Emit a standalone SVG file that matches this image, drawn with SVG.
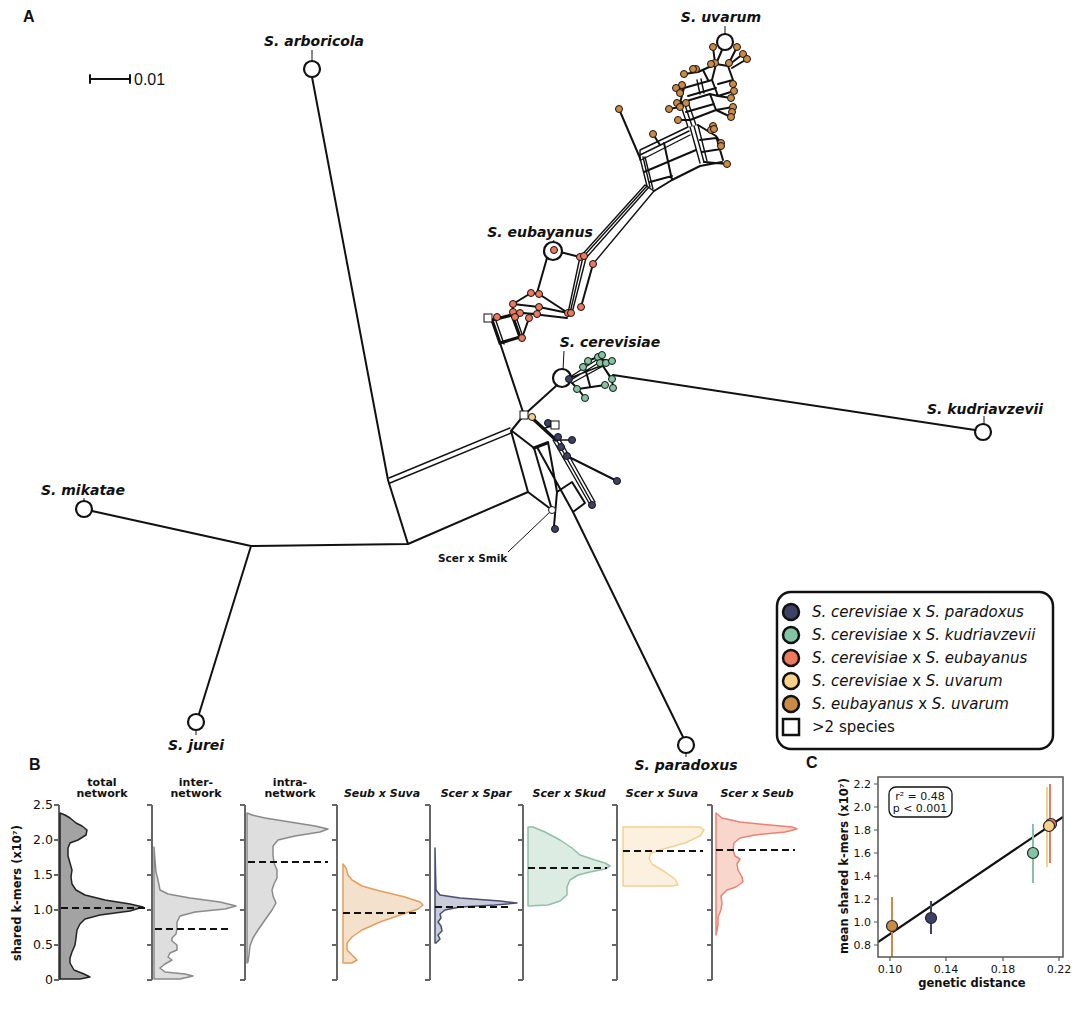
<svg xmlns="http://www.w3.org/2000/svg" width="1084" height="1009" viewBox="0 0 1084 1009">
<style>
text{font-family:"DejaVu Sans",sans-serif;fill:#111}
.lab{font-weight:bold;font-style:italic;font-size:14px;text-anchor:middle}
.e{stroke:#111;stroke-width:2;fill:none;stroke-linecap:round;stroke-linejoin:round}
.b{stroke:#111;stroke-width:1.4;fill:none;stroke-linecap:round}
.th{stroke:#111;stroke-width:3.2;fill:none;stroke-linecap:round}
.spc{fill:#fff;stroke:#111;stroke-width:2.2}
.nv{fill:#3d4166}.gr{fill:#82c4a3}.rd{fill:#ec7a5c}.ye{fill:#f7d18b}.br{fill:#cc8b45}
.lead{stroke:#111;stroke-width:1;fill:none}
.tk{font-size:12.5px;text-anchor:end;fill:#222}
.tt{font-weight:bold;font-size:11px;text-anchor:middle}
.ax{stroke:#666;stroke-width:2;fill:none}
.dash{stroke:#111;stroke-width:2;stroke-dasharray:7,4}
.leg{font-size:15px}
.pl{font-family:"Liberation Sans",Arial,sans-serif;font-weight:bold;font-size:16px}
</style>

<!-- panel letters -->
<text class="pl" x="23" y="22">A</text>
<text class="pl" x="29" y="770">B</text>
<text class="pl" x="806" y="768">C</text>

<!-- scale bar -->
<g id="scalebar">
<path class="e" d="M90,79 L130,79 M90,75 L90,83 M130,75 L130,83" stroke-width="2.5"/>
<text x="134" y="85" style="font-family:'Liberation Sans',Arial,sans-serif;font-size:16px">0.01</text>
</g>

<!-- connectors -->
<g id="edges">
<path class="e" d="M312,77 L388,480 M92,511 L251,546 L408,544 M251,546 L199,714 M408,544 L388,480 M408,544 L528,492 M511,431 L528,492 M511,431 L524,415 M524,415 L500,343 M524,415 L556,386 M528,492 L552,510 M512,431 L534,448 L552,510 M537,447 L573,512 L683,737 M557,492 L572,482 L585,503 L573,512 M557,492 L554,526 M548,442 L557,492 M567,456 L617,481 M613,375 L975,430"/>
<path class="b" d="M389,478 L510,428 M390,483 L511,433"/>
<path class="th" d="M532,418 L556,440 M534,448 L547,443"/>
<path class="b" d="M553,440 L589,503 M556,439 L592,503 M559,438 L595,502 M556,440 L572,440 M545,428 L556,425"/>
<!-- cerevisiae cluster -->
<path class="b" d="M570,377 L598,359 M571,380 L600,362 M572,383 L603,366 M570,378 L603,365" stroke-width="2"/>
<path class="e" d="M598,359 L612,361 M603,366 L612,380 L613,388 M578,389 L605,385 M572,383 L578,389 L585,398 M585,368 L590,386 M583,367 L588,361 L602,355 M600,362 L612,379"/>
<!-- eubayanus cluster -->
<path class="e" d="M547,258 L537,293 M560,252 L580,257 M539,294 L568,313 M593,264 L581,307 M513,304 L531,293 L539,294 M513,304 L539,307 L568,313 M515,312 L567,318 M520,313 L537,314 L539,307 M513,304 L512,315 M488,318 L492,320 M529,318 L522,338"/>
<path class="b" d="M580,257 L568,313 M583,257 L570,313 M586,258 L572,313" stroke-width="1.8"/>
<path class="th" d="M492,320 L512,315 L520,337 L500,343 Z" stroke-width="2.6"/>
<path class="b" d="M496,321 L504,344 M515,314 L523,337"/>
<!-- trunk -->
<path class="b" d="M580,257 L645,185 M583,257 L647,186 M586,258 L649,187 M593,264 L654,191 M645,185 L654,191" stroke-width="1.9"/>
<!-- uvarum cluster -->
<path class="b" d="M647,186 L640,158 M650,187 L643,157 M653,189 L645,157" stroke-width="2"/>
<path class="e" d="M640,158 L619,109 M644,172 L696,150 M650,182 L672,176 M654,191 L672,180 L700,166 L722,162 M664,143 L672,180 M698,125 L716,136 L721,143 M704,162 L727,164 M716,136 L723,160 M700,140 L716,138 M702,152 L721,149 M680,103 L710,94 L716,110 L690,120 M686,112 L714,104 M684,88 L712,80 L718,96 L710,94 M688,96 L716,88 M684,88 L680,103 M712,80 L716,64 M698,72 L716,64 L728,66 L733,80 L718,84 M703,70 L708,80 M716,64 L722,50 M686,103 L677,103 M680,107 L669,109 M690,120 L678,120 M680,93 L684,88 M676,88 L684,88 M684,74 L698,72 M682,85 L684,88 M693,69 L698,72 M711,64 L716,64 M715,63 L713,47 M729,63 L737,47 M730,64 L743,54 M732,68 L747,59 M733,80 L733,84 M718,96 L734,91 M716,110 L731,117 M716,110 L733,107 M718,96 L731,98 M714,129 L711,130 M653,134 L660,145 M696,69 L698,72"/>
<path class="b" d="M640,150 L688,127 M640,155 L689,131 M641,160 L690,135 M640,150 L640,160 M690,127 L700,163 M694,126 L704,162 M698,125 L707,161 M688,127 L680,103 M692,126 L684,102 M696,125 L688,102 M700,94 L697,80 M704,93 L701,79" stroke-width="1.9"/>
<!-- leaders -->
<path class="lead" d="M312,50 L312,61 M725,26 L725,34 M554,240 L553,242 M564,351 L563,370 M984,416 L984,424 M84,498 L84,501 M196,730 L196,735 M686,753 L686,757 M508,552 L552,510"/>
</g>

<!-- small hybrid nodes -->
<g id="hybrids">
<g stroke="#111" stroke-width="1">
<g class="br">
<circle cx="713" cy="47" r="3.5"/><circle cx="737" cy="47" r="3.5"/><circle cx="743" cy="54" r="3.5"/><circle cx="747" cy="59" r="3.5"/><circle cx="729" cy="63" r="3.5"/><circle cx="715" cy="63" r="3.5"/><circle cx="711" cy="64" r="3.5"/><circle cx="696" cy="69" r="3.5"/><circle cx="693" cy="69" r="3.5"/><circle cx="684" cy="74" r="3.5"/><circle cx="682" cy="85" r="3.5"/><circle cx="676" cy="88" r="3.5"/><circle cx="680" cy="93" r="3.5"/><circle cx="733" cy="84" r="3.5"/><circle cx="734" cy="91" r="3.5"/><circle cx="731" cy="98" r="3.5"/><circle cx="733" cy="107" r="3.5"/><circle cx="732" cy="112" r="3.5"/><circle cx="731" cy="117" r="3.5"/><circle cx="677" cy="103" r="3.5"/><circle cx="669" cy="109" r="3.5"/><circle cx="680" cy="107" r="3.5"/><circle cx="686" cy="103" r="3.5"/><circle cx="678" cy="120" r="3.5"/><circle cx="713" cy="126" r="3.5"/><circle cx="711" cy="130" r="3.5"/><circle cx="714" cy="129" r="3.5"/><circle cx="653" cy="134" r="3.5"/><circle cx="619" cy="109" r="3.5"/><circle cx="721" cy="143" r="3.5"/><circle cx="721" cy="146" r="3.5"/><circle cx="727" cy="164" r="3.5"/>
</g>
<g class="rd">
<circle cx="580" cy="257" r="3.5"/><circle cx="584" cy="256" r="3.5"/><circle cx="593" cy="264" r="3.5"/><circle cx="531" cy="293" r="3.5"/><circle cx="539" cy="294" r="3.5"/><circle cx="513" cy="304" r="3.5"/><circle cx="539" cy="307" r="3.5"/><circle cx="581" cy="307" r="3.5"/><circle cx="568" cy="313" r="3.5"/><circle cx="571" cy="313" r="3.5"/><circle cx="513" cy="312" r="3.5"/><circle cx="520" cy="313" r="3.5"/><circle cx="529" cy="318" r="3.5"/><circle cx="537" cy="314" r="3.5"/><circle cx="497" cy="317" r="3.5"/><circle cx="515" cy="317" r="3.5"/><circle cx="522" cy="338" r="3.5"/>
</g>
<g class="gr">
<circle cx="598" cy="357" r="3.5"/><circle cx="600" cy="363" r="3.5"/><circle cx="606" cy="363" r="3.5"/><circle cx="612" cy="361" r="3.5"/><circle cx="583" cy="367" r="3.5"/><circle cx="577" cy="389" r="3.5"/><circle cx="585" cy="398" r="3.5"/><circle cx="605" cy="385" r="3.5"/><circle cx="612" cy="379" r="3.5"/><circle cx="613" cy="388" r="3.5"/><circle cx="588" cy="361" r="3.5"/><circle cx="602" cy="355" r="3.5"/>
</g>
<g class="nv">
<circle cx="548" cy="423" r="3.5"/><circle cx="558" cy="437" r="3.5"/><circle cx="572" cy="440" r="3.5"/><circle cx="561" cy="447" r="3.5"/><circle cx="567" cy="456" r="3.5"/><circle cx="617" cy="481" r="3.5"/><circle cx="592" cy="505" r="3.5"/><circle cx="555" cy="529" r="3.5"/>
</g>
<circle class="ye" cx="532" cy="417" r="3.5"/>
<circle fill="#fff" cx="552" cy="510" r="3.5"/>
<rect fill="#fff" x="551" y="421" width="8" height="8"/>
<rect fill="#fff" x="520" y="411" width="8" height="8"/>
<rect fill="#fff" x="484" y="314" width="8" height="8"/>
</g>
</g>

<!-- species nodes -->
<g id="n-arboricola"><circle class="spc" cx="312" cy="69" r="8"/><text class="lab" x="314" y="46">S. arboricola</text></g>
<g id="n-uvarum"><circle class="spc" cx="725" cy="42" r="8"/><text class="lab" x="721" y="22">S. uvarum</text></g>
<g id="n-eubayanus"><circle class="spc" cx="553" cy="251" r="9"/><circle class="rd" stroke="#111" stroke-width="1" cx="554" cy="250" r="3.5"/><text class="lab" x="540" y="237">S. eubayanus</text></g>
<g id="n-cerevisiae"><circle class="spc" cx="562" cy="378" r="9"/><circle class="nv" stroke="#111" stroke-width="1" cx="569" cy="379" r="3.5"/><text class="lab" x="610" y="347">S. cerevisiae</text></g>
<g id="n-kudriavzevii"><circle class="spc" cx="983" cy="432" r="8"/><text class="lab" x="985" y="414">S. kudriavzevii</text></g>
<g id="n-mikatae"><circle class="spc" cx="84" cy="509" r="8"/><text class="lab" x="83" y="495">S. mikatae</text></g>
<g id="n-jurei"><circle class="spc" cx="196" cy="722" r="8"/><text class="lab" x="196" y="750">S. jurei</text></g>
<g id="n-paradoxus"><circle class="spc" cx="686" cy="745" r="8"/><text class="lab" x="686" y="770">S. paradoxus</text></g>
<g id="n-scersmik"><text x="438" y="562" style="font-weight:bold;font-size:10.5px">Scer x Smik</text></g>

<!-- legend -->
<g id="legend">
<rect x="777" y="592" width="276" height="157" rx="14" fill="#fff" stroke="#111" stroke-width="2.5"/>
<g stroke="#111" stroke-width="2.5">
<circle class="nv" cx="791" cy="612" r="8"/>
<circle class="gr" cx="791" cy="635" r="8"/>
<circle class="rd" cx="791" cy="658" r="8"/>
<circle class="ye" cx="791" cy="681" r="8"/>
<circle class="br" cx="791" cy="704" r="8"/>
<rect fill="#fff" x="783" y="719" width="16" height="16"/>
</g>
<text class="leg" x="812" y="617"><tspan font-style="italic">S. cerevisiae</tspan> x <tspan font-style="italic">S. paradoxus</tspan></text>
<text class="leg" x="812" y="640"><tspan font-style="italic">S. cerevisiae</tspan> x <tspan font-style="italic">S. kudriavzevii</tspan></text>
<text class="leg" x="812" y="663"><tspan font-style="italic">S. cerevisiae</tspan> x <tspan font-style="italic">S. eubayanus</tspan></text>
<text class="leg" x="812" y="686"><tspan font-style="italic">S. cerevisiae</tspan> x <tspan font-style="italic">S. uvarum</tspan></text>
<text class="leg" x="812" y="709"><tspan font-style="italic">S. eubayanus</tspan> x <tspan font-style="italic">S. uvarum</tspan></text>
<text class="leg" x="812" y="732">&gt;2 species</text>
</g>

<!-- panel B -->
<g id="panelB">
<text transform="translate(21,893) rotate(-90)" style="font-weight:bold;font-size:11.5px;text-anchor:middle">shared k-mers (x10⁷)</text>
<g class="tk">
<text x="53" y="809">2.5</text><text x="53" y="844">2.0</text><text x="53" y="879">1.5</text><text x="53" y="914">1.0</text><text x="53" y="949">0.5</text><text x="53" y="984">0</text>
</g>
<g class="ax">
<path d="M59,805 V980 M54,805 H59 M54,840 H59 M54,875 H59 M54,910 H59 M54,945 H59 M54,980 H59"/>
<path d="M152,805 V980 M147,805 H152 M147,840 H152 M147,875 H152 M147,910 H152 M147,945 H152 M147,980 H152"/>
<path d="M245,805 V980 M240,805 H245 M240,840 H245 M240,875 H245 M240,910 H245 M240,945 H245 M240,980 H245"/>
<path d="M337,805 V980 M332,805 H337 M332,840 H337 M332,875 H337 M332,910 H337 M332,945 H337 M332,980 H337"/>
<path d="M430,805 V980 M425,805 H430 M425,840 H430 M425,875 H430 M425,910 H430 M425,945 H430 M425,980 H430"/>
<path d="M523,805 V980 M518,805 H523 M518,840 H523 M518,875 H523 M518,910 H523 M518,945 H523 M518,980 H523"/>
<path d="M617,805 V980 M612,805 H617 M612,840 H617 M612,875 H617 M612,910 H617 M612,945 H617 M612,980 H617"/>
<path d="M712,805 V980 M707,805 H712 M707,840 H712 M707,875 H712 M707,910 H712 M707,945 H712 M707,980 H712"/>
</g>
<g class="tt">
<text x="102" y="786">total</text><text x="102" y="797">network</text>
<text x="196" y="786">inter-</text><text x="196" y="797">network</text>
<text x="290" y="786">intra-</text><text x="290" y="797">network</text>
<g font-style="italic">
<text x="382" y="797">Seub x Suva</text>
<text x="476" y="797">Scer x Spar</text>
<text x="569" y="797">Scer x Skud</text>
<text x="662" y="797">Scer x Suva</text>
<text x="757" y="797">Scer x Seub</text>
</g>
</g>
<polygon fill="#a3a3a3" stroke="#222" stroke-width="1.5" stroke-linejoin="round" points="60,813 65,815 70,818 76,823 82,826 87,830 86,835 78,840 70,843 68,848 68,856 70,863 72,870 71,877 72,884 76,890 85,895 105,900 130,904 143,907 130,911 100,915 85,919 80,924 77,930 76,938 75,945 72,952 70,958 70,963 74,970 84,974 90,977 80,979 60,979"/>
<polygon fill="#dedede" stroke="#8a8a8a" stroke-width="1.5" stroke-linejoin="round" points="154,847 155,860 156,872 158,880 160,890 168,894 190,898 220,902 236,906 225,909 195,912 180,916 177,922 177,928 176,934 172,938 172,941 177,945 177,950 170,953 168,957 172,960 165,964 160,968 165,972 185,974 193,976 180,979 154,979"/>
<polygon fill="#dedede" stroke="#8a8a8a" stroke-width="1.5" stroke-linejoin="round" points="247,813 252,815 265,818 290,822 315,826 328,829 320,832 295,836 278,840 273,846 273,855 274,863 277,870 277,878 274,884 272,890 273,896 276,903 272,910 265,920 258,930 253,938 250,946 249,955 248,962 247,963"/>
<polygon fill="#f4e1cb" stroke="#e39e5e" stroke-width="1.5" stroke-linejoin="round" points="343,864 346,868 348,875 352,880 362,886 380,891 405,897 420,902 423,905 418,909 400,915 380,922 362,930 352,937 347,943 347,950 352,955 357,960 352,963 343,963"/>
<polygon fill="#cbccda" stroke="#4a4e72" stroke-width="1.5" stroke-linejoin="round" points="435,848 435.5,870 436,890 440,895 460,898 500,901 517,903 495,905 460,907 445,910 440,914 441,918 438,922 441,926 442,931 438,935 440,939 436,943 435,943"/>
<polygon fill="#dcece3" stroke="#8fc0a6" stroke-width="1.5" stroke-linejoin="round" points="528,827 533,827 545,832 560,840 572,848 580,855 595,860 605,863 610,866 605,869 590,872 578,875 570,880 567,887 567,895 560,901 548,905 528,906"/>
<polygon fill="#fcf1de" stroke="#f5d090" stroke-width="1.5" stroke-linejoin="round" points="623,827 700,827 704,830 700,836 685,843 660,850 651,853 649,858 652,864 665,872 675,879 678,885 672,886 623,886"/>
<polygon fill="#f9d6cc" stroke="#ec8270" stroke-width="1.5" stroke-linejoin="round" points="716,813 722,818 740,822 770,825 792,827 797,829 785,832 755,835 740,838 734,843 733,850 735,856 740,859 737,864 738,870 742,877 743,882 736,887 727,890 721,896 722,903 721,910 718,917 718,925 716,935"/>
<g class="dash">
<path d="M61,908 H145 M155,929 H232 M248,862 H328 M343,913 H420 M435,907 H510 M528,868 H607 M623,851 H703 M716,850 H795"/>
</g>
</g>

<!-- panel C -->
<g id="panelC">
<defs><clipPath id="cp"><rect x="878" y="777" width="185" height="180"/></clipPath></defs>
<text transform="translate(848,866) rotate(-90)" style="font-weight:bold;font-size:11.5px;text-anchor:middle">mean shared k-mers (x10⁷)</text>
<text x="972" y="987" style="font-weight:bold;font-size:11.5px;text-anchor:middle">genetic distance</text>
<g style="font-size:11px;text-anchor:end;fill:#222">
<text x="871" y="788">2.2</text><text x="871" y="811">2.0</text><text x="871" y="834">1.8</text><text x="871" y="857">1.6</text><text x="871" y="880">1.4</text><text x="871" y="903">1.2</text><text x="871" y="926">1.0</text><text x="871" y="949">0.8</text>
</g>
<g style="font-size:11px;text-anchor:middle;fill:#222">
<text x="890" y="973">0.10</text><text x="946" y="973">0.14</text><text x="1003" y="973">0.18</text><text x="1059" y="973">0.22</text>
</g>
<path stroke="#555" stroke-width="1.2" fill="none" d="M874,784 H878 M874,807 H878 M874,830 H878 M874,853 H878 M874,876 H878 M874,899 H878 M874,922 H878 M874,945 H878 M890,957 V961 M946,957 V961 M1003,957 V961 M1059,957 V961"/>
<g clip-path="url(#cp)">
<path stroke="#111" stroke-width="2.2" d="M878,942 L1063,817"/>
<path stroke-width="2" fill="none" d="M892,897 V958" stroke="#cc8b45"/>
<path stroke-width="2" fill="none" d="M931,901 V934" stroke="#3d4166"/>
<path stroke-width="2" fill="none" d="M1033,824 V883" stroke="#82c4a3"/>
<path stroke-width="2" fill="none" d="M1050,784 V863" stroke="#ec7a5c"/>
<path stroke-width="2" fill="none" d="M1047,787 V867" stroke="#f7d18b"/>
<g stroke="#222" stroke-width="1.2">
<circle class="br" cx="892" cy="926" r="5.5"/>
<circle class="nv" cx="931" cy="918" r="5.5"/>
<circle class="gr" cx="1033" cy="853" r="5.5"/>
<circle class="rd" cx="1051" cy="824" r="5.5"/>
<circle class="ye" cx="1049" cy="826" r="5.5"/>
</g>
</g>
<rect x="878" y="777" width="185" height="180" fill="none" stroke="#555" stroke-width="1.5"/>
<rect x="889" y="787" width="63" height="30" rx="7" fill="#fff" stroke="#111" stroke-width="1.3"/>
<text x="920" y="800" style="font-size:11px;text-anchor:middle">r² = 0.48</text>
<text x="920" y="812" style="font-size:11px;text-anchor:middle">p &lt; 0.001</text>
</g>
</svg>
